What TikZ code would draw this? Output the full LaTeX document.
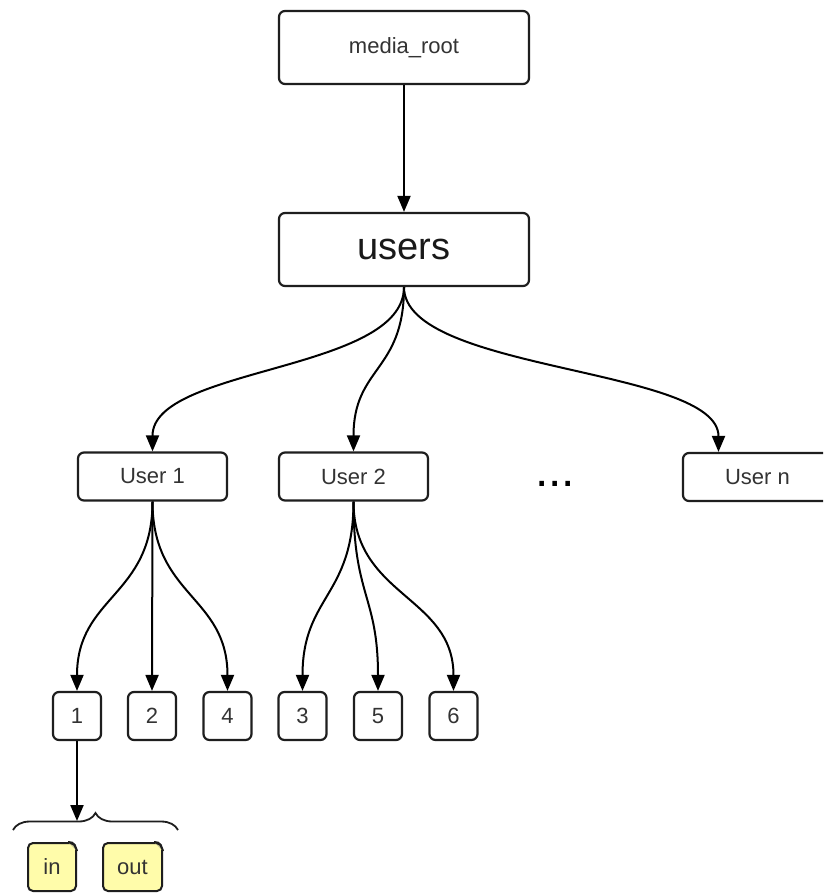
\documentclass[tikz,border=0pt]{standalone}
\usepackage{fontspec}
\setmainfont{Liberation Sans}
\usetikzlibrary{arrows.meta,decorations.pathreplacing,calc}
\definecolor{boxline}{HTML}{1E1E1E}
\definecolor{txt}{HTML}{333333}
\definecolor{noteyellow}{HTML}{FFFCAA}
\begin{document}
\begin{tikzpicture}[x=1pt,y=-1pt,
  box/.style={draw=boxline, line width=2.2pt, rounded corners=6pt, fill=white, text=txt, inner sep=0pt, font=\fontsize{22}{26}\selectfont},
  bigbox/.style={box, minimum width=250pt, minimum height=73pt},
  userbox/.style={box, minimum width=149pt, minimum height=48pt},
  numbox/.style={box, minimum width=48pt, minimum height=48pt},
  notebox/.style={draw=boxline, line width=2pt, fill=noteyellow, rounded corners=5pt, text=txt, inner sep=0pt, minimum height=48pt, font=\fontsize{22}{26}\selectfont},
  arr/.style={draw=black, line width=2pt, -{Triangle[length=16pt,width=13pt]}},
  ear/.style={fill=white},
  fold/.style={draw=boxline, line width=1.4pt, fill=noteyellow!60!gray},
  bracestyle/.style={draw=boxline, line width=1.8pt, decorate, decoration={brace, amplitude=17pt, aspect=0.5}},
]
\clip (0,0) rectangle (823,893);
\fill[white] (0,0) rectangle (823,893);

% main boxes
\node[bigbox] (root) at (404,47.5) {media\_root};
\node[bigbox, font=\fontsize{38}{42}\selectfont, text=black!90] (users) at (404,249.5) {users};

\node[userbox] (u1) at (152.5,476.5) {User 1};
\node[userbox] (u2) at (353.5,476.5) {User 2};
\node[userbox] (un) at (757.5,477) {User n};
\node[anchor=base, font=\fontsize{48}{50}\selectfont] (dots) at (555,486) {...};

% number boxes
\node[numbox] (n1) at (77,716) {1};
\node[numbox] (n2) at (152,716) {2};
\node[numbox] (n4) at (227.5,716) {4};
\node[numbox] (n3) at (302.5,716) {3};
\node[numbox] (n5) at (378,716) {5};
\node[numbox] (n6) at (453.5,716) {6};

% notes
\node[notebox, minimum width=48pt] (nin) at (52,867) {in};
\node[notebox, minimum width=59pt] (nout) at (132.5,867) {out};
\foreach \n in {nin,nout}{
  \fill[ear] ($(\n.north east)+(-9,-3)$) -- ($(\n.north east)+(3,-3)$) -- ($(\n.north east)+(3,9)$) -- cycle;
  \draw[draw=boxline, line width=2pt, rounded corners=2pt] ($(\n.north east)+(-9,0)$) -- ($(\n.north east)+(-3,1)$) -- ($(\n.north east)+(0,9)$);
  \draw[fold] ($(\n.north east)+(-9,0)$) -- ($(\n.north east)+(-3,3)$) -- ($(\n.north east)+(0,9)$);
}

% connectors
\draw[arr] (root.south) -- (users.north);
\draw[arr] (users.south) .. controls +(0,85) and +(0,-85) .. (u1.north);
\draw[arr] (users.south) .. controls +(0,85) and +(0,-85) .. (u2.north);
\coordinate (untop) at ($(un.north)+(-39,0)$);
\draw[arr] (users.south) .. controls +(0,85) and +(0,-85) .. (untop);

\draw[arr] (u1.south) .. controls +(0,95) and +(0,-95) .. (n1.north);
\draw[arr] (u1.south) -- (n2.north);
\draw[arr] (u1.south) .. controls +(0,95) and +(0,-95) .. (n4.north);
\draw[arr] (u2.south) .. controls +(0,95) and +(0,-95) .. (n3.north);
\draw[arr] (u2.south) .. controls +(0,95) and +(0,-95) .. (n5.north);
\draw[arr] (u2.south) .. controls +(0,95) and +(0,-95) .. (n6.north);

% brace
\coordinate (bl) at (13,830);
\coordinate (br) at (178,830);
\draw[bracestyle] (bl) -- (br);
\coordinate (bracehit) at (77,821);
\draw[arr] (n1.south) -- (bracehit);
\end{tikzpicture}
\end{document}
